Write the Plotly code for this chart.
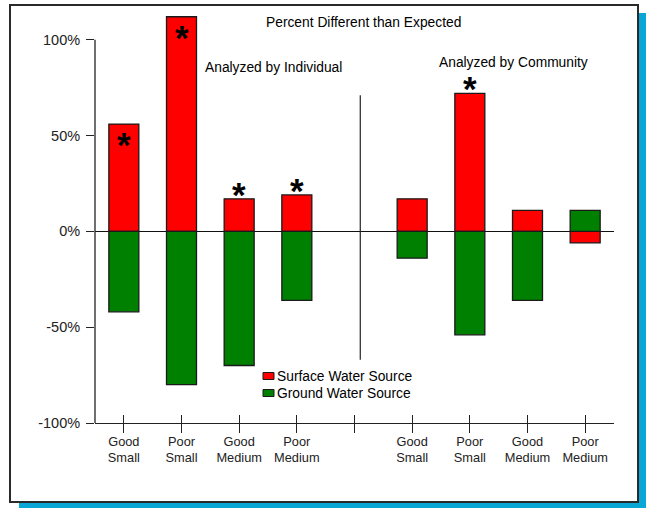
import plotly.graph_objects as go

# ---- data ----
categories = ["Good<br>Small", "Poor<br>Small", "Good<br>Medium", "Poor<br>Medium", "",
              "Good<br>Small", "Poor<br>Small", "Good<br>Medium", "Poor<br>Medium"]
surface = [56, 112, 17, 19, None, 17, 72, 11, -6]
ground = [-42, -80, -70, -36, None, -14, -54, -36, 11]
significant = [True, True, True, True, False, False, True, False, False]
star_inside = [True, True, False, False, False, False, False, False, False]
y_ticks = [-100, -50, 0, 50, 100]
y_tick_text = ["-100%", "-50%", "0%", "50%", "100%"]
series_names = ["Surface Water Source", "Ground Water Source"]
series_colors = ["#ff0000", "#008000"]

xs = list(range(len(categories)))

W, H = 646, 508
L, R, T, B = 95, 32, 16, 85
pw, ph = W - L - R, H - T - B


def px(x):
    return (x - L) / pw


def py(y):
    return (H - B - y) / ph


fig = go.Figure()
for name, vals, col in zip(series_names, [surface, ground], series_colors):
    fig.add_trace(go.Bar(x=xs, y=vals, name=name, width=0.52,
                         marker=dict(color=col, line=dict(color="#1a1a1a", width=1.3)),
                         showlegend=False))

starfont = dict(size=35, color="black", family="Liberation Sans, Arial")
annotations = []
for i, (s, sig, ins) in enumerate(zip(surface, significant, star_inside)):
    if not sig:
        continue
    if ins:
        annotations.append(dict(x=xs[i], y=s, xref="x", yref="y", text="<b>*</b>",
                                showarrow=False, yanchor="top", yshift=1, font=starfont))
    else:
        annotations.append(dict(x=xs[i], y=s, xref="x", yref="y", text="<b>*</b>",
                                showarrow=False, yanchor="bottom", yshift=-17, font=starfont))

txtfont = dict(family="Liberation Sans, Arial", size=13.8, color="black")
annotations += [
    dict(x=px(364), y=py(22), xref="paper", yref="paper", text="Percent Different than Expected",
         showarrow=False, font=txtfont, xanchor="center", yanchor="middle"),
    dict(x=px(273), y=py(67), xref="paper", yref="paper", text="Analyzed by Individual",
         showarrow=False, font=txtfont, xanchor="center", yanchor="middle"),
    dict(x=px(513), y=py(62), xref="paper", yref="paper", text="Analyzed by Community",
         showarrow=False, font=txtfont, xanchor="center", yanchor="middle"),
]

shapes = [
    # shadow
    dict(type="rect", xref="paper", yref="paper", x0=px(19), x1=px(652), y0=py(13), y1=py(514),
         fillcolor="#0aa6d6", line=dict(width=0), layer="below"),
    # frame
    dict(type="rect", xref="paper", yref="paper", x0=px(10), x1=px(638), y0=py(5), y1=py(502),
         fillcolor="white", line=dict(color="#2a2a2a", width=2), layer="below"),
    # y axis line
    dict(type="line", xref="paper", yref="y", x0=0, x1=0, y0=-100, y1=100,
         line=dict(color="#222", width=1.3)),
    # divider
    dict(type="line", xref="x", yref="y", x0=4.1, x1=4.1, y0=-67, y1=71,
         line=dict(color="#222", width=1.2)),
]

# custom legend
for k, (name, col) in enumerate(zip(series_names, series_colors)):
    cy = 376 + 17 * k
    shapes.append(dict(type="rect", xref="paper", yref="paper", x0=px(263), x1=px(274),
                       y0=py(cy - 3.5), y1=py(cy + 3.5), fillcolor=col,
                       line=dict(color="#1a1a1a", width=1)))
    annotations.append(dict(x=px(275), y=py(cy), xref="paper", yref="paper", text=name,
                            showarrow=False, font=txtfont, xanchor="left", yanchor="middle"))

fig.update_layout(
    width=W, height=H,
    margin=dict(l=L, r=R, t=T, b=B),
    paper_bgcolor="white", plot_bgcolor="rgba(0,0,0,0)",
    barmode="overlay",
    showlegend=False,
    font=dict(family="Liberation Sans, Arial", color="#222"),
    xaxis=dict(range=[-0.5, len(categories) - 0.5], tickvals=xs, ticktext=categories,
               ticks="outside", ticklen=9, tickcolor="#222", tickwidth=1.2,
               showline=True, linecolor="#222", linewidth=1.3, showgrid=False,
               zeroline=False, tickfont=dict(size=12.8, color="#222"), fixedrange=True,
               ticklabelstandoff=-3),
    xaxis2=dict(range=[-0.5, len(categories) - 0.5], tickvals=xs, overlaying="x",
                anchor="y", side="bottom", ticks="inside", ticklen=8, tickcolor="#222",
                tickwidth=1.2, showticklabels=False, showgrid=False, zeroline=False,
                showline=False),
    yaxis=dict(range=[-100, 112.4], tickvals=y_ticks, ticktext=y_tick_text,
               ticks="outside", ticklen=8, tickcolor="#222", tickwidth=1.2,
               showline=False, showgrid=False, zeroline=True, zerolinecolor="#111",
               zerolinewidth=1.3, tickfont=dict(size=14.5, color="#222"),
               ticklabelstandoff=3),
    annotations=annotations,
    shapes=shapes,
)
# dummy trace to activate xaxis2
fig.add_trace(go.Scatter(x=[xs[0]], y=[None], xaxis="x2", yaxis="y", showlegend=False,
                         hoverinfo="skip"))

fig.write_html("out.html", config={"displayModeBar": False},
               post_script="document.body.style.margin='0';document.body.style.overflow='hidden';")
